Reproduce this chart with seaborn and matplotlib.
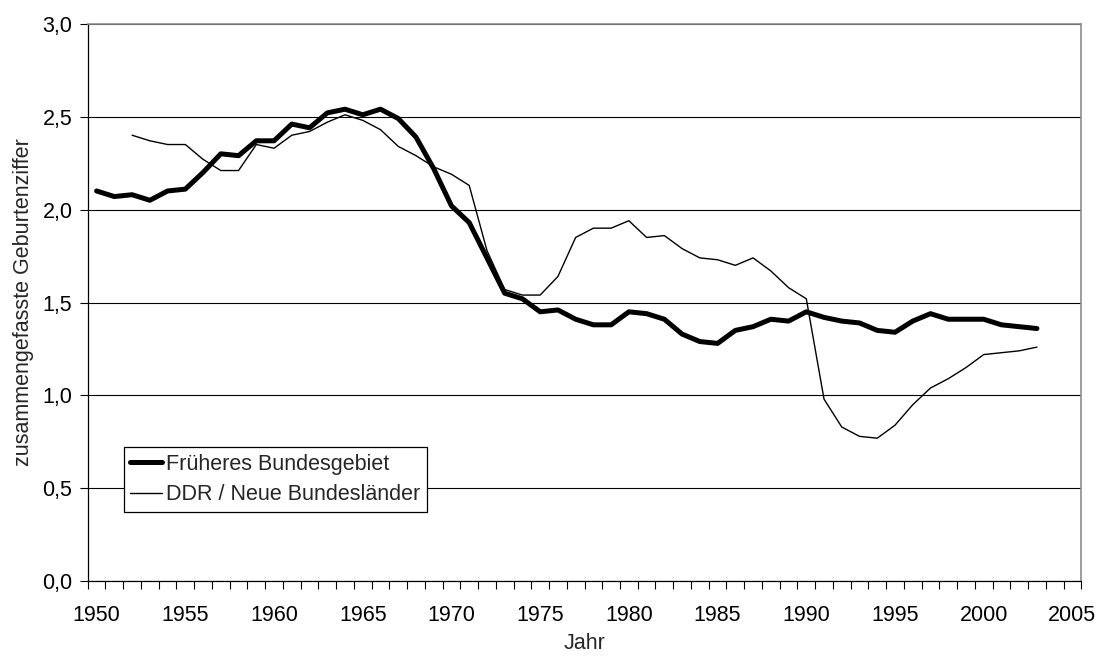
import numpy as np
import pandas as pd
import matplotlib
matplotlib.use("Agg")
import matplotlib.pyplot as plt
import seaborn as sns
from matplotlib.ticker import FuncFormatter, FixedLocator

# Zusammengefasste Geburtenziffer, Früheres Bundesgebiet 1950-2003
years_west = list(range(1950, 2004))
tfr_west = [
    2.10, 2.07, 2.08, 2.05, 2.10, 2.11, 2.20, 2.30, 2.29, 2.37,
    2.37, 2.46, 2.44, 2.52, 2.54, 2.51, 2.54, 2.49, 2.39, 2.22,
    2.02, 1.93, 1.74, 1.55, 1.52, 1.45, 1.46, 1.41, 1.38, 1.38,
    1.45, 1.44, 1.41, 1.33, 1.29, 1.28, 1.35, 1.37, 1.41, 1.40,
    1.45, 1.42, 1.40, 1.39, 1.35, 1.34, 1.40, 1.44, 1.41, 1.41,
    1.41, 1.38, 1.37, 1.36,
]

# DDR / Neue Bundesländer 1952-2003
years_east = list(range(1952, 2004))
tfr_east = [
    2.40, 2.37, 2.35, 2.35, 2.27, 2.21, 2.21, 2.35,
    2.33, 2.40, 2.42, 2.47, 2.51, 2.48, 2.43, 2.34, 2.29, 2.23,
    2.19, 2.13, 1.78, 1.57, 1.54, 1.54, 1.64, 1.85, 1.90, 1.90,
    1.94, 1.85, 1.86, 1.79, 1.74, 1.73, 1.70, 1.74, 1.67, 1.58,
    1.52, 0.98, 0.83, 0.78, 0.77, 0.84, 0.95, 1.04, 1.09, 1.15,
    1.22, 1.23, 1.24, 1.26,
]

label_west = "Früheres Bundesgebiet"
label_east = "DDR / Neue Bundesländer"

df_west = pd.DataFrame({"Jahr": years_west, "TFR": tfr_west})
df_east = pd.DataFrame({"Jahr": years_east, "TFR": tfr_east})

sns.set_theme(style="white")
plt.rcParams["font.family"] = ["Liberation Sans", "DejaVu Sans"]
fs = 15.5

fig = plt.figure(figsize=(11.01, 6.6), dpi=100)
ax = fig.add_axes([0.0797, 0.1192, 0.9024, 0.8449])

sns.lineplot(data=df_west, x="Jahr", y="TFR", color="black", linewidth=3.6,
             label=label_west, ax=ax, solid_joinstyle="round")
sns.lineplot(data=df_east, x="Jahr", y="TFR", color="black", linewidth=1.0,
             label=label_east, ax=ax)

ax.set_xlim(1949.5, 2005.5)
ax.set_ylim(0, 3.0)

# x: labels centred in year categories, tick marks at category borders
ax.xaxis.set_major_locator(FixedLocator(np.arange(1950, 2006, 5)))
ax.xaxis.set_minor_locator(FixedLocator(np.arange(1949.5, 2006, 1)))
ax.tick_params(axis="x", which="major", length=0, pad=17, labelsize=fs,
               colors="black")
ax.tick_params(axis="x", which="minor", length=6, width=0.8, direction="out",
               color="black", bottom=True)

ax.set_yticks(np.arange(0, 3.01, 0.5))
ax.yaxis.set_major_formatter(FuncFormatter(lambda v, _: f"{v:.1f}".replace(".", ",")))
ax.tick_params(axis="y", which="major", length=6, width=0.8, direction="out",
               pad=5, labelsize=fs, colors="black", left=True)

ax.yaxis.grid(True, color="black", linewidth=0.8)
ax.xaxis.grid(False)
ax.set_axisbelow(True)

for side in ["left", "bottom"]:
    ax.spines[side].set_color("black")
    ax.spines[side].set_linewidth(0.9)
for side in ["top", "right"]:
    ax.spines[side].set_color("#8c8c8c")
    ax.spines[side].set_linewidth(1.2)

ax.set_xlabel("Jahr", fontsize=fs, labelpad=5)
ax.set_ylabel("zusammengefasste Geburtenziffer", fontsize=fs, labelpad=6)

leg = ax.legend(loc="lower left", bbox_to_anchor=(0.0365, 0.1248),
                fontsize=fs, frameon=True, fancybox=False, framealpha=1,
                edgecolor="black", handlelength=1.45, handletextpad=0.2,
                labelspacing=0.45, borderpad=0.3, borderaxespad=0)
leg.get_frame().set_linewidth(0.9)

fig.savefig("out.png", dpi=100)
